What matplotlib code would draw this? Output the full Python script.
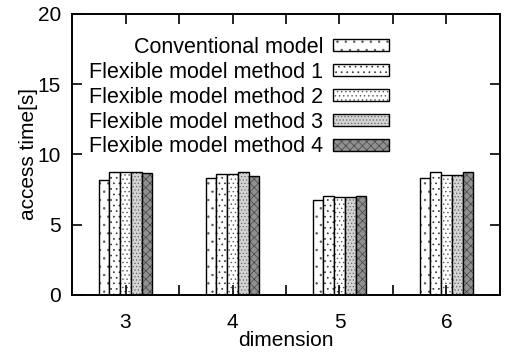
import matplotlib
matplotlib.use("Agg")
import matplotlib.pyplot as plt
from matplotlib.legend_handler import HandlerTuple
import numpy as np

plt.rcParams['font.family'] = ['Liberation Sans', 'DejaVu Sans']
plt.rcParams['hatch.linewidth'] = 0.5

dimensions = [3, 4, 5, 6]
series_names = ["Conventional model", "Flexible model method 1", "Flexible model method 2",
                "Flexible model method 3", "Flexible model method 4"]
conventional = [8.18, 8.35, 6.76, 8.30]
method1 = [8.78, 8.60, 7.05, 8.75]
method2 = [8.78, 8.60, 6.95, 8.55]
method3 = [8.78, 8.75, 6.95, 8.55]
method4 = [8.66, 8.50, 7.05, 8.75]
series = [conventional, method1, method2, method3, method4]

faces = ['white', 'white', 'white', '#d4d4d4', '#909090']
hatches = ['..', '...', '....', '.....', 'xxxx']
hatch_cols = ['#555555', '#333333', '#555555', '#666666', '#444444']

fig = plt.figure(figsize=(5.07, 3.52), dpi=100)
ax = fig.add_axes([72/507, 1-295/352, (500-72)/507, (295-14)/352])

width = 0.1
x = np.array(dimensions, dtype=float)
handles = []
for i, (vals, name) in enumerate(zip(series, series_names)):
    b1 = ax.bar(x + (i - 2) * width, vals, width=width, facecolor=faces[i], edgecolor=hatch_cols[i],
                hatch=hatches[i], linewidth=0)
    b2 = ax.bar(x + (i - 2) * width, vals, width=width, facecolor='none', edgecolor='black',
                linewidth=1.0)
    handles.append((b1, b2))

ax.set_xlim(2.5, 6.5)
ax.set_ylim(0, 20)
ax.set_xticks(dimensions)
ax.set_xticks([3.5, 4.5, 5.5], minor=True)
ax.set_yticks([0, 5, 10, 15, 20])
ax.tick_params(which='both', direction='in', top=True, right=True, length=7, width=1.2,
               labelsize=15)
ax.tick_params(axis='x', pad=13)
ax.tick_params(axis='y', pad=8)
for s in ax.spines.values():
    s.set_linewidth(1.4)
ax.set_xlabel("dimension", fontsize=15, labelpad=-1)
ax.set_ylabel("access time[s]", fontsize=15, labelpad=0)

leg = ax.legend(handles, series_names, handler_map={tuple: HandlerTuple(ndivide=1, pad=0)},
                loc='upper right', bbox_to_anchor=(389/507, 1-37/352), bbox_transform=fig.transFigure,
                markerfirst=False, frameon=False, fontsize=15.5, handlelength=2.6,
                handleheight=0.5, handletextpad=0.45, labelspacing=0.18, borderaxespad=0, borderpad=0)

fig.savefig("out.png", dpi=100)
